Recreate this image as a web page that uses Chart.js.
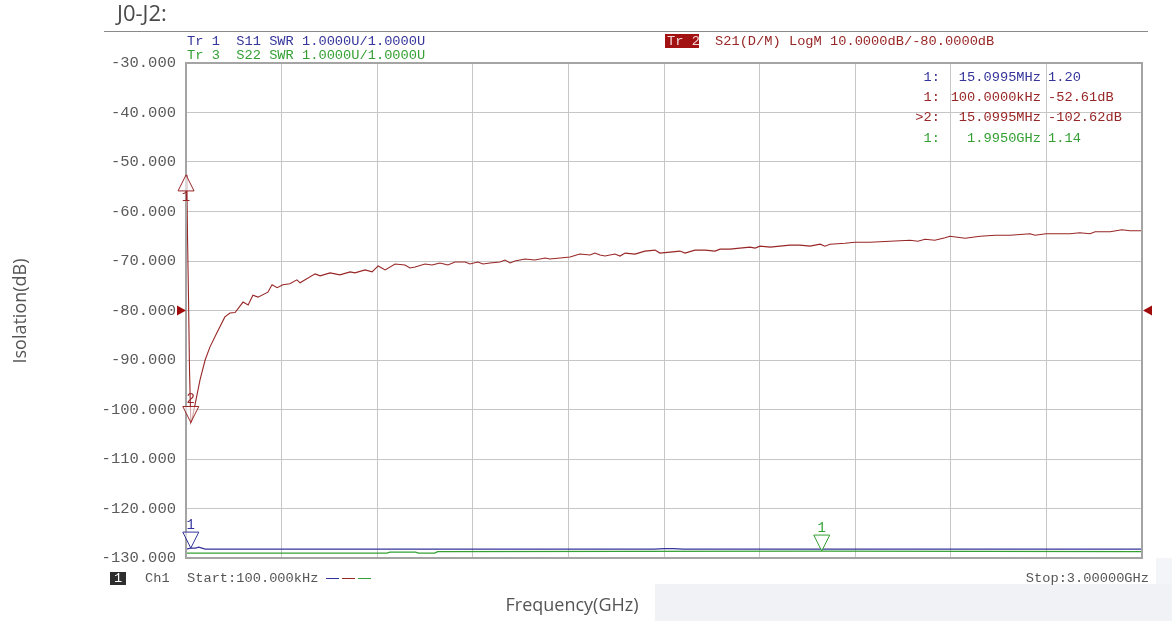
<!DOCTYPE html>
<html lang="en">
<head>
  <meta charset="UTF-8" />
  <title>J0-J2 Isolation</title>
  <script src="https://cdn.jsdelivr.net/npm/chart.js"></script>
  <style>
    html, body { margin: 0; padding: 0; background: #ffffff; }
    #wrap { position: relative; width: 1172px; height: 621px; overflow: hidden; }
    #band { position: absolute; left: 655px; top: 584px; width: 517px; height: 37px; background: #f1f2f5; }
    #edge { position: absolute; left: 1156px; top: 558px; width: 16px; height: 26px; background: #f4f5f8; }
    canvas { position: absolute; left: 0; top: 0; }
  </style>
</head>
<body>
<div id="wrap">
  <div id="band"></div>
  <div id="edge"></div>
  <canvas id="vna" width="1172" height="621"></canvas>
</div>

<script>
// S21 trace (Tr 2), frequency in GHz and level in dB
const s21Freq = [0.0001, 0.003, 0.005, 0.008, 0.011, 0.0151, 0.019, 0.044, 0.060, 0.075, 0.097,
  0.122, 0.138, 0.154, 0.179, 0.195, 0.210, 0.226, 0.257, 0.270, 0.286, 0.304, 0.326, 0.348, 0.358,
  0.405, 0.421, 0.452, 0.483, 0.515, 0.530, 0.562, 0.584, 0.603, 0.625, 0.656, 0.687, 0.703, 0.719,
  0.750, 0.772, 0.797, 0.822, 0.844, 0.876, 0.891, 0.916, 0.932, 0.954, 0.985, 1.001, 1.017, 1.032,
  1.064, 1.095, 1.127, 1.142, 1.174, 1.205, 1.236, 1.268, 1.283, 1.299, 1.315, 1.346, 1.362, 1.378,
  1.409, 1.440, 1.472, 1.487, 1.519, 1.550, 1.566, 1.597, 1.629, 1.660, 1.676, 1.707, 1.738, 1.770,
  1.786, 1.801, 1.833, 1.864, 1.895, 1.927, 1.958, 1.990, 2.005, 2.021, 2.068, 2.099, 2.146, 2.209,
  2.272, 2.297, 2.319, 2.350, 2.382, 2.397, 2.445, 2.492, 2.539, 2.586, 2.649, 2.664, 2.699, 2.774,
  2.805, 2.837, 2.853, 2.900, 2.937, 2.962, 3.000];
const s21Db = [-52.6, -56, -66, -78, -92, -102.6, -102, -94, -90, -87.4, -84.5,
  -81.3, -80.5, -80.4, -78.3, -78.9, -76.9, -77.3, -76.3, -74.8, -75.4, -74.8, -74.6, -73.8, -74.4,
  -72.6, -73.0, -72.4, -72.8, -72.2, -72.4, -71.8, -72.2, -71.0, -71.8, -70.6, -70.8, -71.4, -71.2,
  -70.6, -70.8, -70.4, -70.8, -70.2, -70.2, -70.6, -70.2, -70.6, -70.4, -70.2, -69.8, -70.4, -70.0,
  -69.6, -69.8, -69.4, -69.6, -69.4, -69.2, -68.6, -68.8, -68.4, -68.8, -69.0, -68.6, -69.0, -68.4,
  -68.6, -68.0, -67.8, -68.4, -68.2, -68.0, -68.4, -67.8, -67.8, -68.0, -67.6, -67.6, -67.4, -67.2,
  -67.4, -67.0, -67.2, -67.0, -66.8, -66.8, -67.0, -66.6, -67.0, -66.6, -66.4, -66.2, -66.2, -66.0,
  -65.8, -66.0, -65.6, -65.8, -65.3, -65.0, -65.4, -65.0, -64.8, -64.8, -64.5, -64.8, -64.5, -64.5,
  -64.3, -64.5, -64.1, -64.1, -63.7, -63.9, -63.9];

// S11 / S22 SWR traces (Tr 1, Tr 3), unitless
const s11Freq = [0.0001, 0.0151, 0.030, 0.040, 0.050, 0.060, 1.470, 1.500, 1.530, 1.560, 3.000];
const s11Swr  = [1.18, 1.20, 1.20, 1.22, 1.20, 1.18, 1.18, 1.19, 1.19, 1.18, 1.18];
const s22Freq = [0.0001, 0.630, 0.640, 0.720, 0.730, 0.780, 0.790, 1.995, 3.000];
const s22Swr  = [1.10, 1.10, 1.12, 1.12, 1.10, 1.10, 1.13, 1.14, 1.13];

// markers: trace, frequency (GHz), value, label, direction
const markerTrace = ['s21', 's21', 's11', 's22'];
const markerFreq  = [0.0001, 0.0151, 0.0151, 1.995];
const markerValue = [-52.61, -102.62, 1.20, 1.14];
const markerLabel = ['1', '2', '1', '1'];
const markerUp    = [true, false, false, false];

// axes
const yTicks = [-130, -120, -110, -100, -90, -80, -70, -60, -50, -40, -30];
const refLevel = -80;
const startGHz = 0;
const stopGHz = 3;

const RED = '#982626';
const BLUE = '#34349a';
const GREEN = '#34a034';
const MONO = '"Liberation Mono", "DejaVu Sans Mono", monospace';

function pts(xs, ys) {
  return xs.map((x, i) => ({ x: x, y: ys[i] }));
}

const overlay = {
  id: 'overlay',
  afterDatasetsDraw(chart) {
    const ctx = chart.ctx;
    const a = chart.chartArea;
    const xs = chart.scales.x;

    // frame
    ctx.save();
    ctx.strokeStyle = '#a4a4a4';
    ctx.lineWidth = 2;
    ctx.strokeRect(a.left, a.top, a.right - a.left, a.bottom - a.top);

    // reference level arrows
    const ry = chart.scales.y.getPixelForValue(refLevel);
    ctx.fillStyle = '#a00c0c';
    ctx.beginPath();
    ctx.moveTo(a.left, ry);
    ctx.lineTo(a.left - 9, ry - 5);
    ctx.lineTo(a.left - 9, ry + 5);
    ctx.closePath();
    ctx.fill();
    ctx.beginPath();
    ctx.moveTo(a.right + 1, ry);
    ctx.lineTo(a.right + 10, ry - 5);
    ctx.lineTo(a.right + 10, ry + 5);
    ctx.closePath();
    ctx.fill();

    // markers
    ctx.lineWidth = 1;
    ctx.font = '14px ' + MONO;
    ctx.textAlign = 'center';
    markerFreq.forEach((f, i) => {
      const tr = markerTrace[i];
      const ys = tr === 's21' ? chart.scales.y : chart.scales.ySwr;
      const col = tr === 's21' ? RED : (tr === 's11' ? BLUE : GREEN);
      const px = xs.getPixelForValue(f);
      const py = ys.getPixelForValue(markerValue[i]);
      const d = markerUp[i] ? 1 : -1;
      ctx.strokeStyle = col;
      ctx.fillStyle = 'rgba(255,255,255,0.6)';
      ctx.beginPath();
      ctx.moveTo(px, py);
      ctx.lineTo(px - 8, py + d * 16);
      ctx.lineTo(px + 8, py + d * 16);
      ctx.closePath();
      ctx.fill();
      ctx.stroke();
      ctx.fillStyle = col;
      ctx.textBaseline = 'middle';
      ctx.fillText(markerLabel[i], px, markerUp[i] ? py + 22 : py - 23);
    });
    ctx.restore();
  },
  afterDraw(chart) {
    const ctx = chart.ctx;
    ctx.save();
    ctx.textBaseline = 'middle';

    // title and rule
    ctx.fillStyle = '#4a4a4a';
    ctx.font = '22px "Open Sans", "Noto Sans", sans-serif';
    ctx.textAlign = 'left';
    ctx.fillText('J0-J2:', 117, 15);
    ctx.strokeStyle = '#8a8a8a';
    ctx.lineWidth = 1;
    ctx.beginPath();
    ctx.moveTo(104, 31.5);
    ctx.lineTo(1148, 31.5);
    ctx.stroke();

    // trace headers
    ctx.font = '13.7px ' + MONO;
    ctx.fillStyle = BLUE;
    ctx.fillText('Tr 1  S11 SWR 1.0000U/1.0000U', 187, 41);
    ctx.fillStyle = GREEN;
    ctx.fillText('Tr 3  S22 SWR 1.0000U/1.0000U', 187, 55);
    ctx.fillStyle = '#a31212';
    ctx.fillRect(665, 34, 34, 14);
    ctx.fillStyle = '#f4d8d8';
    ctx.fillText('Tr 2', 667, 41);
    ctx.fillStyle = RED;
    ctx.fillText('S21(D/M) LogM 10.0000dB/-80.0000dB', 715, 41);

    // marker readout table
    const rows = [
      ['1:', '15.0995MHz', '1.20', BLUE],
      ['1:', '100.0000kHz', '-52.61dB', RED],
      ['>2:', '15.0995MHz', '-102.62dB', RED],
      ['1:', '1.9950GHz', '1.14', GREEN]
    ];
    rows.forEach((r, i) => {
      const y = 77 + i * 20.3;
      ctx.fillStyle = r[3];
      ctx.textAlign = 'right';
      ctx.fillText(r[0], 940, y);
      ctx.fillText(r[1], 1041, y);
      ctx.textAlign = 'left';
      ctx.fillText(r[2], 1048, y);
    });

    // bottom status line
    ctx.fillStyle = '#2e2e2e';
    ctx.fillRect(110, 572, 16, 13);
    ctx.fillStyle = '#ffffff';
    ctx.textAlign = 'center';
    ctx.fillText('1', 118, 578);
    ctx.fillStyle = '#555555';
    ctx.textAlign = 'left';
    ctx.fillText('Ch1', 145, 578);
    ctx.fillText('Start:100.000kHz', 187, 578);
    ctx.textAlign = 'right';
    ctx.fillText('Stop:3.00000GHz', 1149, 578);
    [[BLUE, 326], [RED, 342], [GREEN, 358]].forEach(d => {
      ctx.strokeStyle = d[0];
      ctx.beginPath();
      ctx.moveTo(d[1], 578.5);
      ctx.lineTo(d[1] + 13, 578.5);
      ctx.stroke();
    });

    // axis titles
    ctx.fillStyle = '#555555';
    ctx.font = '18px "Open Sans", "Noto Sans", sans-serif';
    ctx.textAlign = 'center';
    ctx.fillText('Frequency(GHz)', 572, 606);
    ctx.translate(21, 311);
    ctx.rotate(-Math.PI / 2);
    ctx.fillText('Isolation(dB)', 0, 0);
    ctx.restore();
  }
};

new Chart(document.getElementById('vna'), {
  type: 'line',
  data: {
    datasets: [
      { label: 'S11', data: pts(s11Freq, s11Swr), yAxisID: 'ySwr', borderColor: BLUE, borderWidth: 1.3 },
      { label: 'S22', data: pts(s22Freq, s22Swr), yAxisID: 'ySwr', borderColor: GREEN, borderWidth: 1.3 },
      { label: 'S21', data: pts(s21Freq, s21Db), yAxisID: 'y', borderColor: RED, borderWidth: 1.1 }
    ]
  },
  options: {
    responsive: false,
    animation: false,
    devicePixelRatio: 1,
    elements: { point: { radius: 0 }, line: { tension: 0 } },
    layout: { padding: { top: 63, right: 30, left: 0, bottom: 0 } },
    plugins: { legend: { display: false }, tooltip: { enabled: false } },
    scales: {
      x: {
        type: 'linear',
        min: startGHz,
        max: stopGHz,
        ticks: { display: false, stepSize: 0.3 },
        grid: { color: '#c6c6c6', drawTicks: false },
        border: { display: false },
        afterFit: s => { s.height = 63; }
      },
      y: {
        type: 'linear',
        min: yTicks[0],
        max: yTicks[yTicks.length - 1],
        afterBuildTicks: s => { s.ticks = yTicks.map(v => ({ value: v })); },
        ticks: {
          padding: 10,
          color: '#5a5a5a',
          font: { family: MONO, size: 15.5 },
          callback: v => v.toFixed(3)
        },
        grid: { color: '#c6c6c6', drawTicks: false },
        border: { display: false },
        afterFit: s => { s.width = 186; }
      },
      ySwr: {
        type: 'linear',
        display: false,
        min: 1,
        max: 11
      }
    }
  },
  plugins: [overlay]
});
</script>
</body>
</html>
